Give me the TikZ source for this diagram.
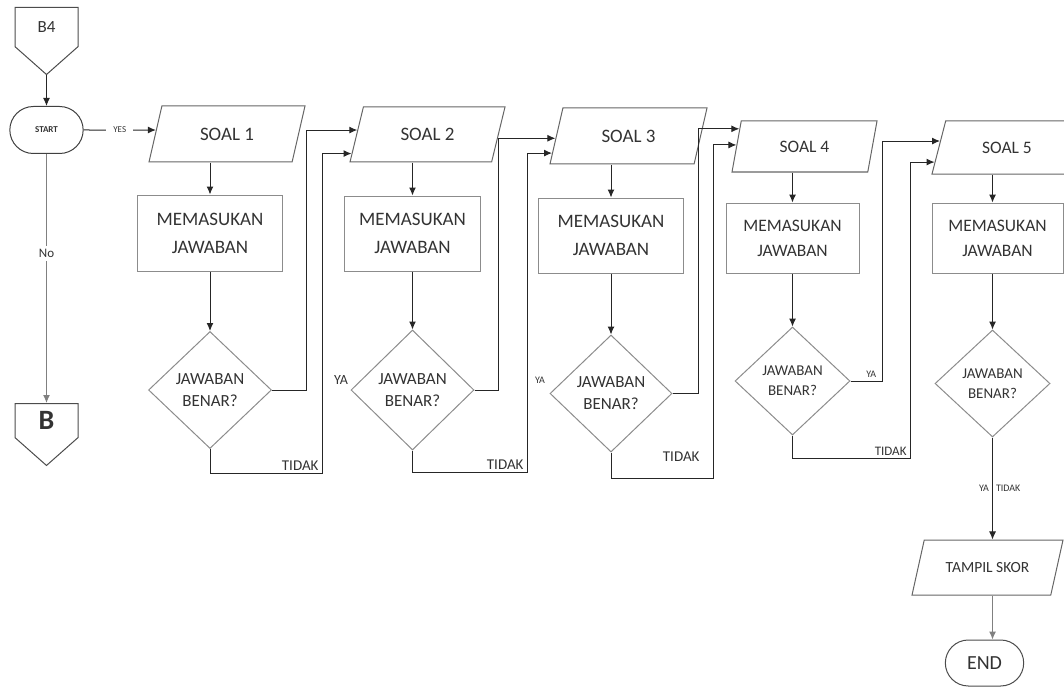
\documentclass[tikz,border=0pt]{standalone}
\usepackage{fontspec}
\setmainfont{Carlito}
\usetikzlibrary{shapes.geometric,shapes.symbols,shapes.misc,arrows.meta,calc}
\begin{document}
\begin{tikzpicture}[x=1pt,y=-1pt,
    every node/.style={text=black!80},
    arr/.style={-{Latex[length=8pt,width=7pt]},draw=black!85,line width=1pt},
    term/.style={rounded rectangle,draw=black!75,line width=1pt,minimum width=80,minimum height=47},
    conn/.style={signal,signal to=south,signal from=nowhere,draw=black!70,line width=1pt,
        signal pointer angle=97,minimum width=63,anchor=north},
    soal/.style={trapezium,trapezium stretches body,draw=black!60,line width=1pt,
        trapezium left angle=#1,trapezium right angle=180-#1,font=\fontsize{19}{22}\selectfont},
    box/.style={rectangle,draw=black!45,line width=1pt,align=center,font=\fontsize{19}{28}\selectfont},
    dia/.style={diamond,aspect=1,inner sep=0pt,draw=black!45,line width=1pt,align=center,
        font=\fontsize{17}{22}\selectfont},
    lbl/.style={font=\fontsize{15}{16}\selectfont,inner sep=3pt}]
\useasboundingbox (0,0) rectangle (1064,687);
\node[conn,minimum height=50,font=\fontsize{17}{18}\selectfont] (b4) at (46.5,7) {B4};
\node[term,font=\bfseries\fontsize{9}{10}\selectfont] (start) at (46.5,130) {START};
\node[conn,minimum height=44,font=\bfseries\fontsize{28}{30}\selectfont] (b) at (46.5,403) {B};
\node[soal=56,minimum width=156,minimum height=56] (soal1) at (227,134) {SOAL 1};
\node[soal=55,minimum width=155,minimum height=55] (soal2) at (427.5,134.5) {SOAL 2};
\node[soal=56,minimum width=157,minimum height=56] (soal3) at (628.5,136) {SOAL 3};
\node[soal=63,minimum width=145,minimum height=51,font=\fontsize{17.5}{20}\selectfont] (soal4) at (804.5,146.5) {SOAL 4};
\node[soal=53,minimum width=150,minimum height=53,font=\fontsize{17.5}{20}\selectfont] (soal5) at (1007,147.5) {SOAL 5};
\node[box,minimum width=145,minimum height=76] (box1) at (210,233) {MEMASUKAN\\JAWABAN};
\node[box,minimum width=136,minimum height=75] (box2) at (412.5,233.5) {MEMASUKAN\\JAWABAN};
\node[box,minimum width=145,minimum height=75] (box3) at (611,235.5) {MEMASUKAN\\JAWABAN};
\node[box,minimum width=133,minimum height=70,font=\fontsize{17.5}{25}\selectfont] (box4) at (792.5,238) {MEMASUKAN\\JAWABAN};
\node[box,minimum width=131,minimum height=70,font=\fontsize{17.5}{25}\selectfont] (box5) at (997.5,238) {MEMASUKAN\\JAWABAN};
\node[dia,minimum width=123,minimum height=117] (dia1) at (210,390) {JAWABAN\\BENAR?};
\node[dia,minimum width=123,minimum height=120] (dia2) at (412.5,390) {JAWABAN\\BENAR?};
\node[dia,minimum width=122,minimum height=117] (dia3) at (611,393.5) {JAWABAN\\BENAR?};
\node[dia,minimum width=115,minimum height=108,font=\fontsize{15}{20}\selectfont] (dia4) at (792.5,381) {JAWABAN\\BENAR?};
\node[dia,minimum width=115,minimum height=107,font=\fontsize{15}{20}\selectfont] (dia5) at (992.5,383.5) {JAWABAN\\BENAR?};
\node[soal=54,minimum width=151,minimum height=55,font=\fontsize{15.5}{18}\selectfont] (skor) at (987.5,567.5) {TAMPIL SKOR};
\node[term,minimum width=85,minimum height=46,draw=black!70,font=\fontsize{20}{22}\selectfont] (end) at (984.5,663) {END};
\node[lbl,font=\fontsize{14}{15}\selectfont] (ya2) at (341,380) {YA};
\node[lbl,font=\fontsize{10}{11}\selectfont] (ya3) at (540,380) {YA};
\coordinate (in1) at ($(soal1.top left corner)!0.43!(soal1.bottom left corner)$);
\coordinate (in2a) at ($(soal2.top left corner)!0.42!(soal2.bottom left corner)$);
\coordinate (in2b) at ($(soal2.top left corner)!0.84!(soal2.bottom left corner)$);
\coordinate (in3a) at ($(soal3.top left corner)!0.54!(soal3.bottom left corner)$);
\coordinate (in3b) at ($(soal3.top left corner)!0.80!(soal3.bottom left corner)$);
\coordinate (in4a) at ($(soal4.top left corner)!0.16!(soal4.bottom left corner)$);
\coordinate (in4b) at ($(soal4.top left corner)!0.47!(soal4.bottom left corner)$);
\coordinate (in5a) at ($(soal5.top left corner)!0.38!(soal5.bottom left corner)$);
\coordinate (in5b) at ($(soal5.top left corner)!0.77!(soal5.bottom left corner)$);
\draw[arr] (b4.south) -- (start.north);
\draw[arr,draw=black!50] (start.south) -- node[pos=0.4,fill=white,lbl,font=\fontsize{13}{14}\selectfont] {No} (b.north);
\draw[arr] (start.east) -- node[fill=white,inner sep=7pt,font=\fontsize{9}{10}\selectfont] {YES} (in1);
\foreach \i in {1,2,3,4,5} \draw[arr] (soal\i.south -| dia\i.north) -- (box\i.north -| dia\i.north);
\foreach \i in {1,2,3,4,5} \draw[arr] (box\i.south -| dia\i.north) -- (dia\i.north);
\draw[arr] (dia1.east) -- ++(34,0) |- (in2a);
\draw[arr] (dia1.south) -- ++(0,24.5) -- ++(112,0) node[lbl,above left] {TIDAK} |- (in2b);
\draw[arr] (dia2.east) -- ++(24,0) |- (in3a);
\draw[arr] (dia2.south) -- ++(0,22) -- ++(114.5,0) node[lbl,above left] {TIDAK} |- (in3b);
\draw[arr] (dia3.east) -- ++(26,0) |- (in4a);
\draw[arr] (dia3.south) -- ++(0,26) -- ++(102,0) node[lbl,above left,yshift=14pt,xshift=-10pt] {TIDAK} |- (in4b);
\draw[arr] (dia4.east) -- node[lbl,above,pos=0.65,font=\fontsize{10}{11}\selectfont] {YA} ++(32,0) |- (in5a);
\draw[arr] (dia4.south) -- ++(0,23) -- ++(117.5,0) node[lbl,above left,font=\fontsize{13}{14}\selectfont] {TIDAK} |- (in5b);
\draw[arr] (dia5.south) -- node[left,inner sep=3pt,font=\fontsize{10}{11}\selectfont] {YA} node[right,inner sep=3pt,font=\fontsize{10}{11}\selectfont] {TIDAK} (skor.north -| dia5.south);
\draw[arr,draw=black!50] (skor.south -| dia5.south) -- (end.north -| dia5.south);
\end{tikzpicture}
\end{document}
